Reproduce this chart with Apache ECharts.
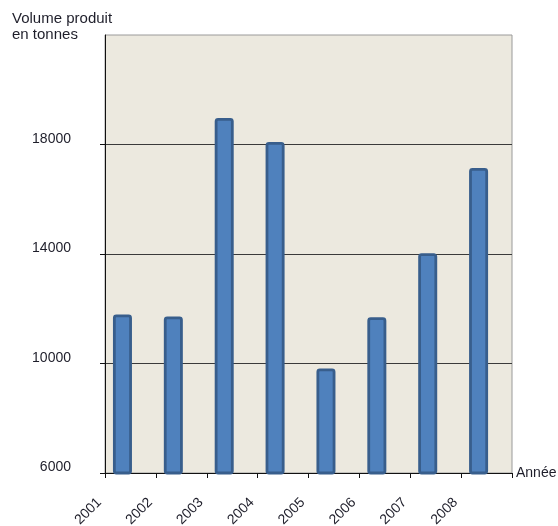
<!DOCTYPE html>
<html>
<head>
<meta charset="utf-8">
<script src="https://cdn.jsdelivr.net/npm/echarts@6/dist/echarts.min.js"></script>
<style>
html,body{margin:0;padding:0;background:#fff;}
#chart{width:558px;height:526px;}
</style>
</head>
<body>
<div id="chart"></div>
<script>
const years = ['2001', '2002', '2003', '2004', '2005', '2006', '2007', '2008'];
const volumes = [11790, 11720, 18970, 18090, 9820, 11690, 14030, 17140];
const yearTickLabels = ['2001', '2002', '2003', '2004', '2005', '2006', '2007', '2008', ''];
const yAxisTitle = 'Volume produit\nen tonnes';
const xAxisTitle = 'Année';

const chart = echarts.init(document.getElementById('chart'), null, {renderer: 'canvas'});
const font = 'Liberation Sans, Arial, sans-serif';
const textColor = '#1e1e2a';

chart.setOption({
  animation: false,
  backgroundColor: '#ffffff',
  title: {
    text: yAxisTitle,
    left: 12,
    top: 11,
    padding: 0,
    textStyle: {fontFamily: font, fontSize: 15, fontWeight: 'normal', color: textColor, lineHeight: 16}
  },
  grid: {
    left: 105, right: 46, top: 35, bottom: 53,
    outerBoundsMode: 'none',
    containLabel: false,
    show: true, backgroundColor: '#ECE9DF', borderColor: '#9a9a9a', borderWidth: 1
  },
  xAxis: [
    {
      type: 'category',
      data: years,
      boundaryGap: true,
      name: xAxisTitle,
      nameLocation: 'end',
      nameGap: 4,
      nameTextStyle: {fontFamily: font, fontSize: 14, color: textColor},
      axisLine: {show: true, lineStyle: {color: '#111', width: 1}},
      axisTick: {show: true, length: 5, inside: false, lineStyle: {color: '#111'}},
      axisLabel: {show: false},
      splitLine: {show: false}
    },
    {
      type: 'category',
      data: yearTickLabels,
      boundaryGap: false,
      position: 'bottom',
      axisLine: {show: false},
      axisTick: {show: false},
      splitLine: {show: false},
      axisLabel: {
        show: true, interval: 0, rotate: 45, margin: 33,
        verticalAlign: 'bottom',
        fontFamily: font, fontSize: 14, lineHeight: 16, color: textColor
      }
    }
  ],
  yAxis: {
    type: 'value',
    min: 6000, max: 22000, interval: 4000,
    axisLine: {show: true, lineStyle: {color: '#111', width: 1}},
    axisTick: {show: true, length: 5, lineStyle: {color: '#111'}},
    axisLabel: {
      showMaxLabel: false, margin: 34,
      verticalAlign: 'bottom', lineHeight: 11,
      formatter: (v) => String(v),
      fontFamily: font, fontSize: 14, color: textColor
    },
    splitLine: {show: true, showMaxLine: false, lineStyle: {color: '#3a3a3a', width: 1.2}}
  },
  series: [
    {
      type: 'bar',
      xAxisIndex: 0,
      data: volumes,
      barWidth: 19,
      barGap: '-16%',
      itemStyle: {color: '#4F81BD', borderColor: '#385E8C', borderWidth: 2.8, borderRadius: 2}
    },
    {
      type: 'bar',
      xAxisIndex: 0,
      data: years.map(() => null),
      barWidth: 19,
      barGap: '-16%',
      itemStyle: {color: 'transparent'}
    }
  ]
});
</script>
</body>
</html>
